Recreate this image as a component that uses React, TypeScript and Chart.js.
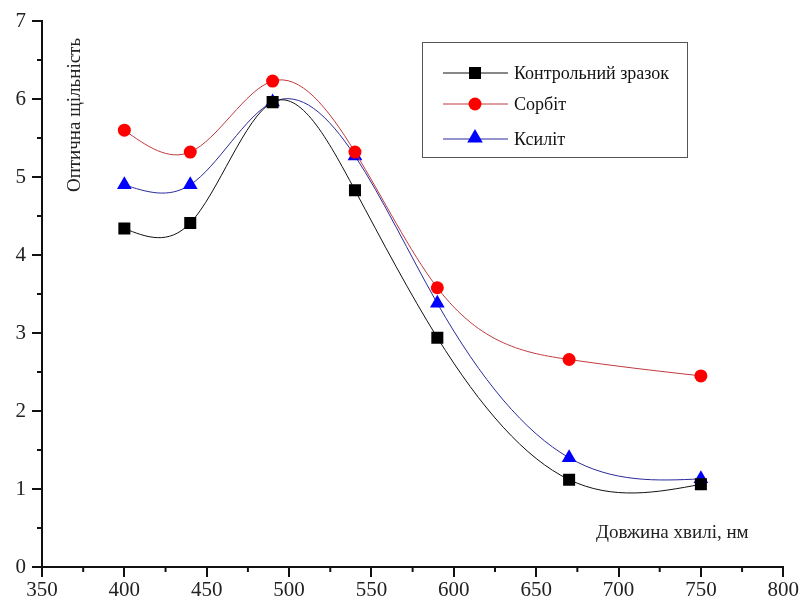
import React, { useEffect, useRef } from "react";
import { Chart, registerables } from "chart.js";

Chart.register(...registerables);

const wavelengths = [400, 440, 490, 540, 590, 670, 750];
const controlValues = [4.34, 4.41, 5.96, 4.83, 2.94, 1.12, 1.06];
const sorbitValues = [5.6, 5.32, 6.23, 5.32, 3.58, 2.66, 2.45];
const xylitolValues = [4.9, 4.9, 5.96, 5.27, 3.38, 1.4, 1.13];
const seriesNames = ["Контрольний зразок", "Сорбіт", "Ксиліт"];
const xTitle = "Довжина хвилі, нм";
const yTitle = "Оптична щільність";

const FONT = "Liberation Serif";

Chart.defaults.font.family = FONT;

function drawMarker(ctx: CanvasRenderingContext2D, style: string, x: number, y: number, r: number, fill: string) {
  ctx.save();
  ctx.fillStyle = fill;
  ctx.beginPath();
  if (style === "rect") {
    const s = r * Math.SQRT1_2;
    ctx.rect(x - s, y - s, 2 * s, 2 * s);
  } else if (style === "circle") {
    ctx.arc(x, y, r, 0, Math.PI * 2);
  } else {
    for (let i = 0; i < 3; i++) {
      const a = (i * 2 * Math.PI) / 3;
      const px = x + Math.sin(a) * r;
      const py = y - Math.cos(a) * r;
      if (i === 0) ctx.moveTo(px, py);
      else ctx.lineTo(px, py);
    }
    ctx.closePath();
  }
  ctx.fill();
  ctx.restore();
}

// Natural cubic spline control points computed on the library's own point elements
const splinePlugin = {
  id: "naturalSpline",
  beforeDatasetsDraw(chart: any) {
    chart.data.datasets.forEach((_: any, di: number) => {
      const meta = chart.getDatasetMeta(di);
      if (!meta || !meta.dataset) return;
      meta.dataset.updateControlPoints(chart.chartArea, meta.iScale ? meta.iScale.axis : "x");
      const pts = meta.data;
      const n = pts.length;
      if (n < 3) return;
      const xs = pts.map((p: any) => p.x);
      const ys = pts.map((p: any) => p.y);
      const h: number[] = [];
      for (let i = 0; i < n - 1; i++) h.push(xs[i + 1] - xs[i]);
      // solve tridiagonal for second derivatives M (natural: M0 = Mn = 0)
      const M = new Array(n).fill(0);
      const a: number[] = new Array(n).fill(0);
      const b: number[] = new Array(n).fill(0);
      const c: number[] = new Array(n).fill(0);
      const d: number[] = new Array(n).fill(0);
      for (let i = 1; i < n - 1; i++) {
        a[i] = h[i - 1];
        b[i] = 2 * (h[i - 1] + h[i]);
        c[i] = h[i];
        d[i] = 6 * ((ys[i + 1] - ys[i]) / h[i] - (ys[i] - ys[i - 1]) / h[i - 1]);
      }
      // Thomas algorithm on indices 1..n-2
      const cp: number[] = new Array(n).fill(0);
      const dp: number[] = new Array(n).fill(0);
      for (let i = 1; i < n - 1; i++) {
        const m = b[i] - (i > 1 ? a[i] * cp[i - 1] : 0);
        cp[i] = c[i] / m;
        dp[i] = (d[i] - (i > 1 ? a[i] * dp[i - 1] : 0)) / m;
      }
      for (let i = n - 2; i >= 1; i--) {
        M[i] = dp[i] - (i < n - 2 ? cp[i] * M[i + 1] : 0);
      }
      for (let i = 0; i < n - 1; i++) {
        const hh = h[i];
        const slope = (ys[i + 1] - ys[i]) / hh;
        const s = slope - (hh * (2 * M[i] + M[i + 1])) / 6;
        const e = slope + (hh * (M[i] + 2 * M[i + 1])) / 6;
        pts[i].cp2x = xs[i] + hh / 3;
        pts[i].cp2y = ys[i] + (s * hh) / 3;
        pts[i + 1].cp1x = xs[i + 1] - hh / 3;
        pts[i + 1].cp1y = ys[i + 1] - (e * hh) / 3;
      }
      pts[0].cp1x = xs[0];
      pts[0].cp1y = ys[0];
      pts[n - 1].cp2x = xs[n - 1];
      pts[n - 1].cp2y = ys[n - 1];
    });
  },
};

const decorPlugin = {
  id: "decor",
  afterDraw(chart: any) {
    const ctx: CanvasRenderingContext2D = chart.ctx;
    const xs = chart.scales.x;
    const ys = chart.scales.y;
    const area = chart.chartArea;
    ctx.save();
    ctx.strokeStyle = "#111";
    ctx.lineWidth = 2;
    xs.ticks.forEach((t: any) => {
      if (t.value % 50 !== 0) {
        const px = xs.getPixelForValue(t.value);
        ctx.beginPath();
        ctx.moveTo(px, area.bottom);
        ctx.lineTo(px, area.bottom + 5);
        ctx.stroke();
      }
    });
    ys.ticks.forEach((t: any) => {
      if (Math.abs(t.value % 1) > 1e-6) {
        const py = ys.getPixelForValue(t.value);
        ctx.beginPath();
        ctx.moveTo(area.left, py);
        ctx.lineTo(area.left - 5, py);
        ctx.stroke();
      }
    });
    ctx.fillStyle = "#222";
    ctx.font = `19px "${FONT}"`;
    ctx.save();
    ctx.translate(area.left + 33, area.top + 94);
    ctx.rotate(-Math.PI / 2);
    ctx.textAlign = "center";
    ctx.textBaseline = "middle";
    ctx.fillText(yTitle, 0, 0);
    ctx.restore();
    ctx.font = `19px "${FONT}"`;
    ctx.textAlign = "left";
    ctx.textBaseline = "middle";
    ctx.fillText(xTitle, area.left + 554, area.bottom - 34);

    const lx = area.left + 380;
    const ly = area.top + 21;
    ctx.strokeStyle = "#555";
    ctx.lineWidth = 1;
    ctx.strokeRect(lx + 0.5, ly + 0.5, 265, 115);
    const rows = [31, 62, 97];
    chart.data.datasets.forEach((ds: any, i: number) => {
      const y = ly + rows[i];
      ctx.strokeStyle = ds.borderColor;
      ctx.lineWidth = 1;
      ctx.beginPath();
      ctx.moveTo(lx + 21, y);
      ctx.lineTo(lx + 86, y);
      ctx.stroke();
      const r = ds.pointStyle === "triangle" ? 9 : ds.pointStyle === "rect" ? 8.5 : 6.5;
      drawMarker(ctx, ds.pointStyle, lx + 53, ds.pointStyle === "triangle" ? y - 1 : y, r, ds.pointBackgroundColor);
      ctx.fillStyle = "#111";
      ctx.font = `18px "${FONT}"`;
      ctx.textAlign = "left";
      ctx.textBaseline = "middle";
      ctx.fillText(ds.label, lx + 92, y + 1);
    });
    ctx.restore();
  },
};

export default function App() {
  const canvasRef = useRef<HTMLCanvasElement | null>(null);

  useEffect(() => {
    document.body.style.margin = "0";
    const canvas = canvasRef.current;
    if (!canvas) return;
    const mk = (vals: number[]) => wavelengths.map((x, i) => ({ x, y: vals[i] }));
    const chart = new Chart(canvas, {
      type: "line",
      data: {
        datasets: [
          {
            label: seriesNames[0],
            data: mk(controlValues),
            borderColor: "#111111",
            borderWidth: 1,
            pointStyle: "rect",
            pointRadius: 8.5,
            pointBackgroundColor: "#000000",
            pointBorderColor: "#000000",
            pointBorderWidth: 0,
            tension: 0.4,
          },
          {
            label: seriesNames[1],
            data: mk(sorbitValues),
            borderColor: "#c03a40",
            borderWidth: 1,
            pointStyle: "circle",
            pointRadius: 6.5,
            pointBackgroundColor: "#ff0000",
            pointBorderColor: "#ff0000",
            pointBorderWidth: 0,
            tension: 0.4,
          },
          {
            label: seriesNames[2],
            data: mk(xylitolValues),
            borderColor: "#2a2a9a",
            borderWidth: 1,
            pointStyle: "triangle",
            pointRadius: 8.5,
            pointBackgroundColor: "#0000ff",
            pointBorderColor: "#0000ff",
            pointBorderWidth: 0,
            tension: 0.4,
          },
        ] as any,
      },
      options: {
        animation: false,
        responsive: false,
        events: [],
        layout: { padding: { left: 0, top: 21, right: 15, bottom: 0 } },
        plugins: { legend: { display: false }, tooltip: { enabled: false } },
        scales: {
          x: {
            type: "linear",
            min: 350,
            max: 800,
            afterFit: (s: any) => {
              s.height = 38;
            },
            border: { display: true, color: "#111", width: 2 },
            grid: {
              drawOnChartArea: false,
              drawTicks: true,
              tickLength: 10,
              lineWidth: 2,
              color: (c: any) => (c.tick && c.tick.value % 50 === 0 ? "#111" : "rgba(0,0,0,0)"),
            },
            ticks: {
              stepSize: 25,
              autoSkip: false,
              maxRotation: 0,
              padding: 1,
              color: "#222",
              font: { family: FONT, size: 21 },
              callback: (v: any) => (Number(v) % 50 === 0 ? String(v) : ""),
            },
          },
          y: {
            type: "linear",
            min: 0,
            max: 7,
            afterFit: (s: any) => {
              s.width = 42;
            },
            border: { display: true, color: "#111", width: 2 },
            grid: {
              drawOnChartArea: false,
              drawTicks: true,
              tickLength: 10,
              lineWidth: 2,
              color: (c: any) => (c.tick && Math.abs(c.tick.value % 1) < 1e-6 ? "#111" : "rgba(0,0,0,0)"),
            },
            ticks: {
              stepSize: 0.5,
              autoSkip: false,
              padding: 6,
              color: "#222",
              font: { family: FONT, size: 21 },
              callback: (v: any) => (Math.abs(Number(v) % 1) < 1e-6 ? String(v) : ""),
            },
          },
        },
      },
      plugins: [splinePlugin, decorPlugin],
    });
    return () => chart.destroy();
  }, []);

  return (
    <div style={{ width: 800, height: 605, background: "#fff" }}>
      <canvas ref={canvasRef} width={800} height={605} />
    </div>
  );
}
